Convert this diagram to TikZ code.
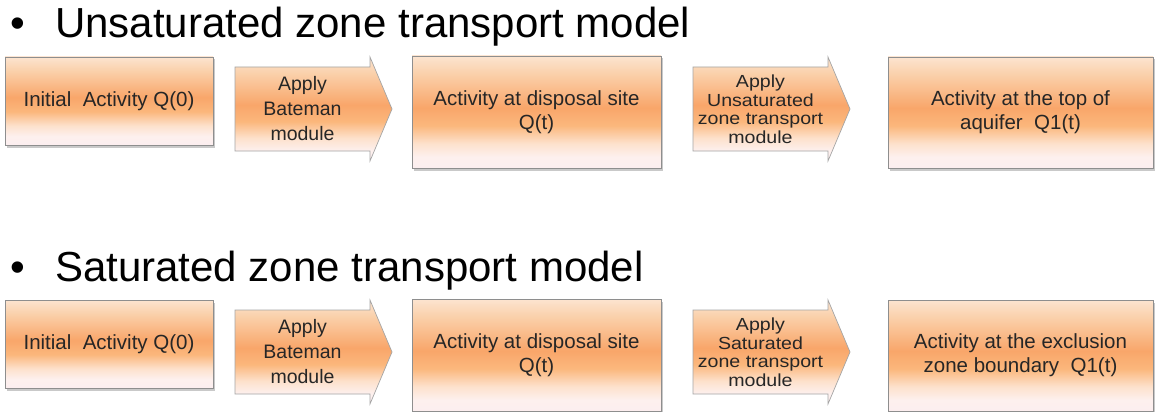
\documentclass[tikz,border=0pt]{standalone}
\usepackage{fontspec}
\setmainfont{Liberation Sans}
\usetikzlibrary{calc,shadows}

\definecolor{txt}{HTML}{262626}
\definecolor{edge}{HTML}{8E8E8E}
\definecolor{pTop}{HTML}{FCE4D0}
\definecolor{pUp}{HTML}{FAD0AA}
\definecolor{pMid}{HTML}{F9A66A}
\definecolor{pLow}{HTML}{FBB77C}
\definecolor{pPale}{HTML}{FDE1CC}
\definecolor{pFoot}{HTML}{FDF0EE}
\definecolor{pBot}{HTML}{FCEEEF}

% warm top-to-bottom gradient used by every stage and arrow
\pgfdeclareverticalshading{peach}{100bp}{%
  color(0bp)=(pBot); color(25bp)=(pBot); color(30bp)=(pFoot);
  color(36bp)=(pPale); color(44bp)=(pLow); color(52bp)=(pMid);
  color(67bp)=(pUp); color(75bp)=(pTop); color(100bp)=(pTop)}

% chevron-shaped arrow body around a centre coordinate
\newcommand\arrowbody[1]{%
  \path[arrowpath] ($(#1)+(-67.5,42)$) -- ($(#1)+(67.5,42)$)
    -- ($(#1)+(67.5,52)$) -- ($(#1)+(89.5,0)$) -- ($(#1)+(67.5,-52)$)
    -- ($(#1)+(67.5,-42)$) -- ($(#1)+(-67.5,-42)$) -- cycle;}

\begin{document}
\begin{tikzpicture}[x=1pt,y=1pt,
  title/.style={anchor=base west, inner sep=0, text=black,
    font=\fontsize{42}{48}\selectfont},
  stage/.style={draw=edge, line width=0.8pt, shading=peach,
    drop shadow={shadow xshift=1.5pt, shadow yshift=-2.5pt, opacity=0.35, fill=black!60},
    inner sep=0, align=center, text=txt,
    font=\fontsize{20.5}{24}\selectfont},
  arrowpath/.style={draw=edge!80, line width=0.7pt, shading=peach},
  stepA/.style={inner sep=0, align=center, text=txt,
    font=\fontsize{19.5}{25}\selectfont},
  stepB/.style={inner sep=0, align=center, text=txt,
    font=\fontsize{17.5}{18.5}\selectfont\addfontfeatures{FakeStretch=1.12}}]

\path[fill=white] (0,0) rectangle (1159,-412);
\useasboundingbox (0,0) rectangle (1159,-412);

% ---------------- unsaturated zone ----------------
\node[title] (u0) at (10,-38) {•};
\node[title] (u1) at (55,-38) {Unsaturated zone transport model};

\node[stage, minimum width=208pt, minimum height=88pt] (ua) at (109,-101)
  {Initial\ \ Activity Q(0)};
\coordinate (ub) at (302.5,-109);
\arrowbody{ub}
\node[stepA] (ubt) at (ub) {Apply\\Bateman\\module};
\node[stage, minimum width=249pt, minimum height=112pt] (uc) at (536.5,-112)
  {Activity at disposal site\\Q(t)};
\coordinate (ud) at (760.5,-109);
\arrowbody{ud}
\node[stepB] (udt) at (ud) {Apply\\Unsaturated\\zone transport\\module};
\node[stage, minimum width=265pt, minimum height=111pt] (ue) at (1020.5,-112.5)
  {Activity at the top of\\aquifer\ \ Q1(t)};

% ---------------- saturated zone ----------------
\node[title] (s0) at (10,-281) {•};
\node[title] (s1) at (55,-281) {Saturated zone transport model};

\node[stage, minimum width=208pt, minimum height=88pt] (sa) at (109,-344)
  {Initial\ \ Activity Q(0)};
\coordinate (sb) at (302.5,-352);
\arrowbody{sb}
\node[stepA] (sbt) at (sb) {Apply\\Bateman\\module};
\node[stage, minimum width=249pt, minimum height=112pt] (sc) at (536.5,-355)
  {Activity at disposal site\\Q(t)};
\coordinate (sd) at (760.5,-352);
\arrowbody{sd}
\node[stepB] (sdt) at (sd) {Apply\\Saturated\\zone transport\\module};
\node[stage, minimum width=265pt, minimum height=111pt] (se) at (1020.5,-355.5)
  {Activity at the exclusion\\zone boundary\ \ Q1(t)};

\end{tikzpicture}
\end{document}
